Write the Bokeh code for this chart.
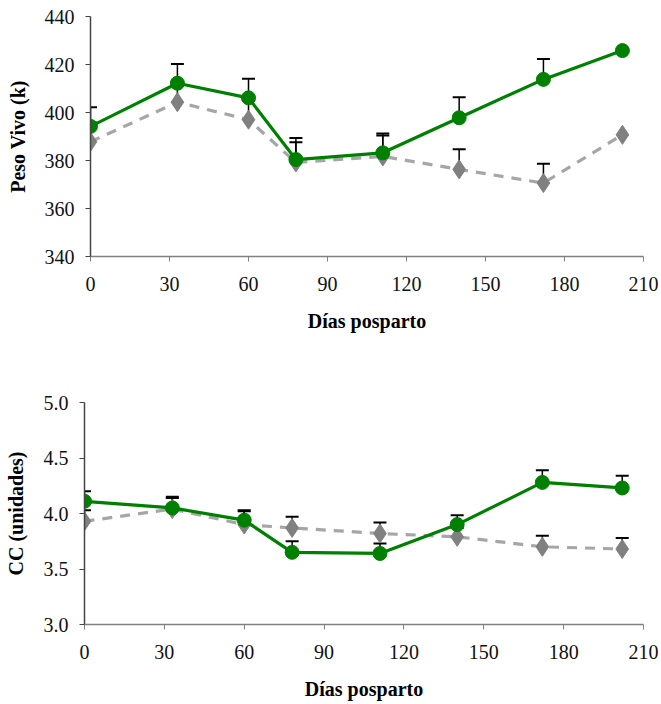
import numpy as np
from bokeh.plotting import figure
from bokeh.layouts import column, row
from bokeh.models import FixedTicker, Range1d
from bokeh.embed import file_html
from bokeh.resources import INLINE

dias = [0, 33, 60, 78, 111, 140, 172, 202]

peso_verde = [394.2, 412.2, 406.1, 380.4, 383.2, 397.8, 413.8, 425.8]
peso_verde_ee = [8, 8, 8, 9, 8, 8.6, 8.5, 0]
peso_gris = [387.8, 404.3, 397.0, 379.2, 381.7, 376.3, 370.6, 390.7]
peso_gris_ee = [8, 8, 8, 8.4, 8.7, 8.4, 8.0, 0]

cc_verde = [4.11, 4.05, 3.94, 3.65, 3.64, 3.90, 4.28, 4.23]
cc_verde_ee = [0.09, 0.10, 0.09, 0.10, 0.09, 0.085, 0.11, 0.11]
cc_gris = [3.93, 4.04, 3.90, 3.87, 3.82, 3.79, 3.70, 3.68]
cc_gris_ee = [0.10, 0.10, 0.12, 0.10, 0.10, 0.08, 0.10, 0.10]

x_ticks = [0, 30, 60, 90, 120, 150, 180, 210]
peso_ticks = [340, 360, 380, 400, 420, 440]
cc_ticks = [3.0, 3.5, 4.0, 4.5, 5.0]

FONT = "Liberation Serif"
GREEN = "#008000"
GRAY_M = "#808080"
GRAY_L = "#a6a6a6"


def make_panel(height, border_top, border_left, border_bottom, yr, yticks, ylabel,
               fmt, v, ve, g, ge, ylab_standoff):
    p = figure(width=661, height=height, output_backend="svg", toolbar_location=None,
               x_range=Range1d(0, 210), y_range=Range1d(*yr),
               min_border_top=border_top, min_border_left=border_left,
               min_border_bottom=border_bottom, min_border_right=18)
    p.outline_line_color = None
    p.grid.visible = False
    p.background_fill_color = "white"
    p.border_fill_color = "white"

    p.xaxis.ticker = FixedTicker(ticks=x_ticks)
    p.yaxis.ticker = FixedTicker(ticks=yticks)
    p.yaxis.major_label_overrides = {t: fmt(t) for t in yticks}
    for ax in (p.xaxis, p.yaxis):
        ax.minor_tick_line_color = None
        ax.major_tick_in = 0
        ax.major_tick_out = 5
        ax.major_label_text_font = FONT
        ax.major_label_text_font_size = "20px"
        ax.major_label_text_color = "#111111"
        ax.axis_label_text_font = FONT
        ax.axis_label_text_font_style = "bold"
        ax.axis_label_text_font_size = "20px"
        ax.axis_label_text_color = "#000000"
    p.xaxis.axis_line_color = "#808080"
    p.xaxis.major_tick_line_color = "#808080"
    p.yaxis.axis_line_color = "#444444"
    p.yaxis.major_tick_line_color = "#444444"
    p.xaxis.axis_line_width = 1.5
    p.yaxis.axis_line_width = 1.5
    p.xaxis.major_label_standoff = 15
    p.yaxis.major_label_standoff = 11
    p.xaxis.axis_label = "Días posparto"
    p.xaxis.axis_label_standoff = 16
    p.yaxis.axis_label = ylabel
    p.yaxis.axis_label_standoff = ylab_standoff

    # error bars (upper only)
    for ys, es in ((g, ge), (v, ve)):
        xs_e = [x for x, e in zip(dias, es) if e > 0]
        y0 = [y for y, e in zip(ys, es) if e > 0]
        y1 = [y + e for y, e in zip(ys, es) if e > 0]
        p.segment(x0=xs_e, y0=y0, x1=xs_e, y1=y1, line_color="black", line_width=1.5)
        p.dash(x=xs_e, y=y1, size=13, line_color="black", line_width=2)

    p.line(dias, g, line_color=GRAY_L, line_width=3.2, line_dash="10 8")
    p.scatter(dias, g, marker="diamond", size=19, fill_color=GRAY_M, line_color=GRAY_M)
    p.line(dias, v, line_color=GREEN, line_width=3.2)
    p.scatter(dias, v, marker="circle", size=14, fill_color=GREEN, line_color=GREEN)
    return p


p1 = make_panel(350, 16, 90, 94, (340, 440), peso_ticks, "Peso Vivo (k)",
                lambda t: str(int(t)), peso_verde, peso_verde_ee, peso_gris, peso_gris_ee, 13)
p2 = make_panel(354, 52, 84, 80, (3.0, 5.0), cc_ticks, "CC (unidades)",
                lambda t: f"{t:.1f}", cc_verde, cc_verde_ee, cc_gris, cc_gris_ee, 14)

layout = column(row(p1), row(p2), spacing=0)
open("out.html", "w").write(file_html(layout, INLINE))
